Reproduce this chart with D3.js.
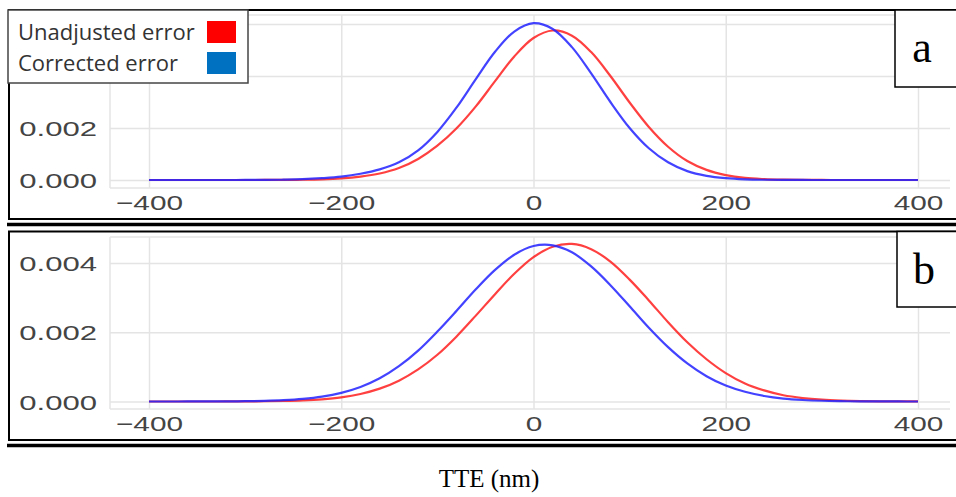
<!DOCTYPE html>
<html><head><meta charset="utf-8">
<script src="https://cdn.jsdelivr.net/npm/d3@7"></script>
<style>body{margin:0;background:#fff;} svg{display:block;}</style>
</head><body>
<svg id="chart" width="956" height="497"></svg>
<script>
// ---------- data ----------
const xValues = [-400,-380,-360,-340,-320,-300,-280,-260,-240,-220,-200,-180,-160,-140,-120,-100,-80,-60,-40,-20,
  0,20,40,60,80,100,120,140,160,180,200,220,240,260,280,300,320,340,360,380,400];

const panelAUnadjusted = [0,0,0,0,0,0,0.000001,0.000004,0.00001,0.000025,0.00006,0.00013,0.00025,0.00046,0.00081,0.00132,0.00199,0.00283,0.0038,0.00475,
  0.00546,0.00575,0.00555,0.00492,0.004,0.00298,0.00204,0.00128,0.00073,0.00039,0.00019,0.00008,0.000034,0.000013,0.000004,0.000001,0,0,0,0,0];
const panelACorrected = [0,0,0,0,0,0.000001,0.000003,0.000012,0.00003,0.00007,0.00013,0.00024,0.00041,0.00068,0.00114,0.00185,0.00279,0.00388,0.00493,0.00571,
  0.00603,0.00581,0.00511,0.0041,0.003,0.002,0.00122,0.00068,0.00034,0.00016,0.00007,0.000026,0.000009,0.000003,0.000001,0,0,0,0,0,0];

const panelBUnadjusted = [0,0,0,0.0000005,0.000001,0.000003,0.000007,0.000015,0.000032,0.000064,0.000121,0.000218,0.000371,0.000602,0.000927,0.00135,0.00188,0.00248,0.0031,0.00369,
  0.00417,0.00447,0.00455,0.0044,0.00404,0.00352,0.00292,0.00229,0.00171,0.00122,0.00082,0.00052,0.00032,0.00018,0.0001,0.000052,0.000026,0.000012,0.000005,0.000002,0.000001];
const panelBCorrected = [0,0,0.000001,0.0000015,0.000004,0.000008,0.000018,0.000038,0.000075,0.00014,0.000249,0.000419,0.00067,0.00102,0.00147,0.00202,0.00262,0.00324,0.0038,0.00424,
  0.00449,0.00451,0.00431,0.0039,0.00336,0.00275,0.00213,0.00157,0.0011,0.00073,0.00046,0.00028,0.00016,0.000085,0.000044,0.000021,0.00001,0.000004,0.000002,0.000001,0];

const xTicks = [-400,-200,0,200,400];
const yGridA = [0,0.002,0.004,0.006];
const yLabelsA = [0,0.002];
const yGridB = [0,0.002,0.004];
const yLabelsB = [0,0.002,0.004];
const seriesNames = ["Unadjusted error","Corrected error"];
const legendColors = ["#ff0000","#0070c0"];
const lineColors = ["#ff1f1f","#2222ff"];
const panelLetters = ["a","b"];
const xAxisTitle = "TTE (nm)";

// ---------- drawing ----------
const svg = d3.select("#chart");
const x = d3.scaleLinear().domain([-400,400]).range([149,918]);

const panels = [
  {unadj: panelAUnadjusted, corr: panelACorrected, yGrid: yGridA, yLabels: yLabelsA, yDomain:[0,0.006], yRange:[180,24],
   top:15, bottom:188, labelY:210, boxTop:10, boxBottom:219, letterBox:[895,10,87], letterY:62, ruleY:224.5},
  {unadj: panelBUnadjusted, corr: panelBCorrected, yGrid: yGridB, yLabels: yLabelsB, yDomain:[0,0.004], yRange:[401.5,263],
   top:237, bottom:409, labelY:431, boxTop:231.5, boxBottom:440, letterBox:[897,231.5,307], letterY:284, ruleY:445.5}
];
const plotLeft = 110, plotRight = 950;
const grid = "#e4e4e4";

panels.forEach((p, i) => {
  const y = d3.scaleLinear().domain(p.yDomain).range(p.yRange);

  // panel frame
  svg.append("rect").attr("x",9).attr("y",p.boxTop).attr("width",960).attr("height",p.boxBottom-p.boxTop)
    .attr("fill","#fff").attr("stroke","#000").attr("stroke-width",2);

  // plot frame lines
  svg.append("line").attr("x1",plotLeft).attr("x2",plotLeft).attr("y1",p.top).attr("y2",p.bottom).attr("stroke",grid).attr("stroke-width",1.5);
  svg.append("line").attr("x1",plotLeft).attr("x2",plotRight).attr("y1",p.bottom).attr("y2",p.bottom).attr("stroke",grid).attr("stroke-width",1.5);
  svg.append("line").attr("x1",plotLeft).attr("x2",plotRight).attr("y1",p.top).attr("y2",p.top).attr("stroke",grid).attr("stroke-width",1.5);

  // vertical gridlines
  const gxg = svg.append("g").attr("transform",`translate(0,${p.bottom})`)
    .call(d3.axisBottom(x).tickValues(xTicks).tickSize(-(p.bottom-p.top)).tickFormat(""));
  gxg.select(".domain").remove();
  gxg.selectAll("line").attr("stroke",grid).attr("stroke-width",1.5);

  // horizontal gridlines
  const gyg = svg.append("g").attr("transform",`translate(${plotLeft},0)`)
    .call(d3.axisLeft(y).tickValues(p.yGrid).tickSize(-(plotRight-plotLeft)).tickFormat(""));
  gyg.select(".domain").remove();
  gyg.selectAll("line").attr("stroke",grid).attr("stroke-width",1.5);

  // x tick labels
  const gx = svg.append("g").attr("transform",`translate(0,${p.labelY})`)
    .call(d3.axisBottom(x).tickValues(xTicks).tickSize(0).tickPadding(0).tickFormat(d3.format("")));
  gx.select(".domain").remove();
  gx.attr("font-family","'Liberation Sans', Arial, sans-serif").attr("font-size",21);
  gx.selectAll("text").attr("y",0).attr("dy",0).attr("fill","#444").attr("transform","scale(1.42,1)");

  // y tick labels
  const gy = svg.append("g").attr("transform",`translate(97,0)`)
    .call(d3.axisLeft(y).tickValues(p.yLabels).tickSize(0).tickPadding(0).tickFormat(d3.format(".3f")));
  gy.select(".domain").remove();
  gy.attr("font-family","'Liberation Sans', Arial, sans-serif").attr("font-size",21);
  gy.selectAll("text").attr("x",0).attr("dy","0.36em").attr("fill","#444").attr("transform","scale(1.48,1)");

  // curves
  const line = d3.line().x((d,k) => x(xValues[k])).y(d => y(d)).curve(d3.curveCatmullRom.alpha(0.5));
  [p.unadj, p.corr].forEach((vals, s) => {
    svg.append("path").datum(vals).attr("d", line).attr("fill","none")
      .attr("stroke", lineColors[s]).attr("stroke-width",2.2).attr("stroke-opacity",0.85);
  });

  // letter box
  const [lx, ly0, ly1] = p.letterBox;
  svg.append("rect").attr("x",lx).attr("y",ly0).attr("width",80).attr("height",ly1-ly0)
    .attr("fill","#fff").attr("stroke","#000").attr("stroke-width",1.5);
  svg.append("text").attr("x",lx+27).attr("y",p.letterY).attr("text-anchor","middle")
    .attr("font-family","'Liberation Serif', 'Times New Roman', serif").attr("font-size",44).attr("fill","#000")
    .text(panelLetters[i]);

  // thick rule under panel
  svg.append("line").attr("x1",7).attr("x2",956).attr("y1",p.ruleY).attr("y2",p.ruleY)
    .attr("stroke","#000").attr("stroke-width",3.5);
});

// legend
const lg = svg.append("g");
lg.append("rect").attr("x",8).attr("y",10).attr("width",240).attr("height",73)
  .attr("fill","#fff").attr("stroke","#444").attr("stroke-width",1.5);
seriesNames.forEach((name, s) => {
  lg.append("text").attr("x",18).attr("y",40 + s*31).attr("font-family","'Open Sans', sans-serif")
    .attr("font-size",22).attr("fill","#333").text(name);
  lg.append("rect").attr("x",207).attr("y",21 + s*31).attr("width",29).attr("height",22).attr("fill",legendColors[s]);
});

// x axis title
svg.append("text").attr("x",489).attr("y",487).attr("text-anchor","middle")
  .attr("font-family","'Liberation Serif', 'Times New Roman', serif").attr("font-size",25).attr("fill","#000")
  .text(xAxisTitle);
</script>
</body></html>
